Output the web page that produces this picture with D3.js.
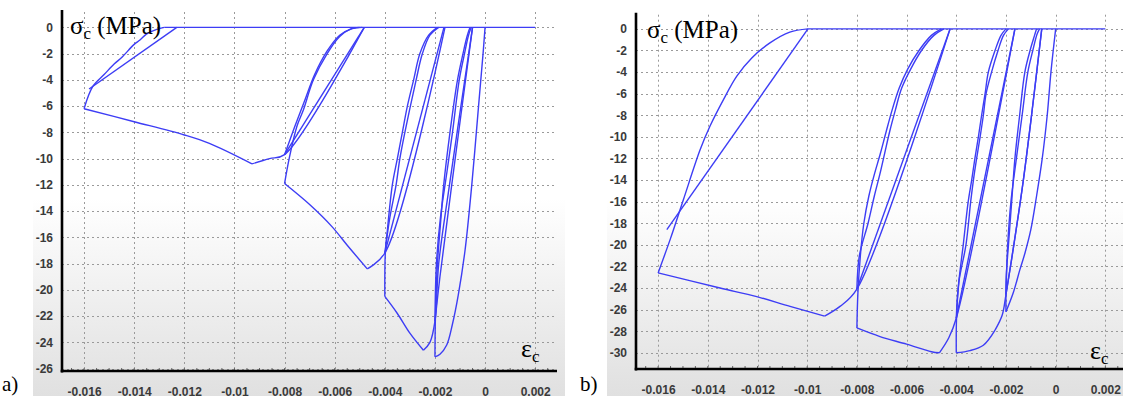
<!DOCTYPE html>
<html>
<head>
<meta charset="utf-8">
<script src="https://cdn.jsdelivr.net/npm/d3@7"></script>
<style>
  html, body { margin: 0; padding: 0; background: #ffffff; }
  svg { display: block; }
</style>
</head>
<body>
<svg id="chart" width="1123" height="398"></svg>
<script>
// ---------------- DATA ----------------
const strainTicks = [-0.016, -0.014, -0.012, -0.01, -0.008, -0.006, -0.004, -0.002, 0, 0.002];
const strainTickLabels = ["-0.016", "-0.014", "-0.012", "-0.01", "-0.008", "-0.006", "-0.004", "-0.002", "0", "0.002"];
const stressTicksA = [0, -2, -4, -6, -8, -10, -12, -14, -16, -18, -20, -22, -24, -26];
const stressTicksB = [0, -2, -4, -6, -8, -10, -12, -14, -16, -18, -20, -22, -24, -26, -28, -30];
const panelLabels = ["a)", "b)"];

// Panel a) branches [strain, stress MPa]
const aEnvelope0 = [[0,0],[-0.00008,-2],[-0.00026,-6],[-0.00053,-12],[-0.0008,-17],[-0.00107,-20.4],[-0.0013,-22.6],[-0.00153,-24.2],[-0.0018,-24.9],[-0.002,-25.1]];
const aUnload1 = [[-0.002,-25.1],[-0.00198,-22],[-0.0019,-18],[-0.00178,-15],[-0.00165,-12],[-0.0014,-8],[-0.0011,-4],[-0.00088,-2],[-0.00072,-0.7],[-0.0006,0]];
const aReload1 = [[-0.0005,0],[-0.00133,-12],[-0.0018,-19],[-0.002,-22.4]];
const aUnload2 = [[-0.002,-22.4],[-0.00194,-18],[-0.00178,-14.5],[-0.00152,-11],[-0.0013,-8],[-0.00103,-4],[-0.00082,-2],[-0.00066,-0.6],[-0.00055,0]];
const aReload2 = [[-0.0005,0],[-0.00142,-12],[-0.00185,-18],[-0.002,-22.4],[-0.0022,-24],[-0.00246,-24.6]];
const aEnvelope1 = [[-0.00246,-24.6],[-0.003,-23.3],[-0.0035,-21.8],[-0.004,-20.5]];
const aUnload3 = [[-0.004,-20.5],[-0.00398,-17.2],[-0.0039,-15.5],[-0.0037,-12],[-0.0035,-10],[-0.0033,-8],[-0.0031,-6],[-0.00285,-4],[-0.0026,-2],[-0.00225,-0.6],[-0.0019,0]];
const aReload3 = [[-0.00164,0],[-0.004,-17.2]];
const aUnload4 = [[-0.004,-17.2],[-0.0038,-14.5],[-0.00355,-12],[-0.0034,-10],[-0.0032,-8],[-0.00298,-6],[-0.00275,-4],[-0.0025,-2],[-0.0022,-0.6],[-0.00185,0]];
const aReload4 = [[-0.0016,0],[-0.004,-17.2],[-0.0047,-18.4]];
const aEnvelope2 = [[-0.0047,-18.4],[-0.0055,-16.6],[-0.0061,-15.2],[-0.007,-13.5],[-0.008,-11.9]];
const aUnload5 = [[-0.008,-11.9],[-0.0078,-9.85],[-0.0075,-7.5],[-0.00725,-6.3],[-0.00685,-4],[-0.0063,-2],[-0.0058,-0.7],[-0.0054,-0.15],[-0.005,0]];
const aReload5 = [[-0.00482,0],[-0.008,-9.7]];
const aUnload6 = [[-0.008,-9.7],[-0.0076,-7.6],[-0.0072,-5.6],[-0.0068,-3.6],[-0.0063,-1.8],[-0.0058,-0.6],[-0.0053,-0.1],[-0.0049,0]];
const aReload6 = [[-0.00482,0],[-0.008,-9.7],[-0.0086,-10.0],[-0.0093,-10.4]];
const aEnvelope3 = [[-0.0093,-10.4],[-0.011,-8.84],[-0.012,-8.2],[-0.014,-7.19],[-0.016,-6.2]];
const aUnload7 = [[-0.016,-6.2],[-0.01565,-4.5],[-0.0152,-3.6],[-0.0148,-2.8],[-0.0145,-2.3],[-0.014,-1.3],[-0.01377,-0.97],[-0.0135,-0.5],[-0.0131,-0.15],[-0.0128,0]];
const aReload7 = [[-0.0123,0],[-0.0158,-4.7]];
const aTension = [[-0.0128,0],[0.002,0]];

// Panel b) branches [strain, stress MPa]
const bEnvelope0 = [[0,0],[-0.00019,-4],[-0.00034,-8],[-0.00054,-12],[-0.00077,-15.5],[-0.001,-18.6],[-0.00124,-20.8],[-0.00144,-22.3],[-0.0017,-24.4],[-0.002,-26.2]];
const bUnload1 = [[-0.002,-26.2],[-0.00199,-23],[-0.0019,-20],[-0.00177,-16],[-0.00164,-12],[-0.00145,-8],[-0.00124,-4],[-0.00103,-2],[-0.00085,-0.6],[-0.00077,0]];
const bReload1 = [[-0.00056,0],[-0.00097,-8],[-0.0013,-14],[-0.00165,-19.5],[-0.002,-24.6]];
const bUnload2 = [[-0.002,-24.6],[-0.00193,-20],[-0.0018,-16],[-0.00158,-12],[-0.00135,-8],[-0.00112,-4],[-0.00092,-2],[-0.00075,-0.5],[-0.00065,0]];
const bReload2 = [[-0.00056,0],[-0.00097,-8],[-0.0013,-14],[-0.00165,-19.5],[-0.002,-24.6],[-0.00215,-26.5],[-0.00244,-27.9]];
const bEnvelope1 = [[-0.00244,-27.9],[-0.00291,-29.3],[-0.00345,-29.8],[-0.004,-30]];
const bUnload3 = [[-0.004,-30],[-0.00399,-26.8],[-0.0039,-23.5],[-0.00372,-20],[-0.00352,-16],[-0.00338,-14],[-0.00325,-12],[-0.00311,-10],[-0.00298,-8],[-0.00284,-6],[-0.00271,-4],[-0.00244,-2],[-0.0022,-0.6],[-0.002,0]];
const bReload3 = [[-0.00164,0],[-0.004,-26.8]];
const bUnload4 = [[-0.004,-26.8],[-0.0039,-23.5],[-0.00361,-20],[-0.00342,-16],[-0.00331,-14],[-0.00318,-12],[-0.00304,-10],[-0.00291,-8],[-0.0028,-6],[-0.00258,-4],[-0.00232,-2],[-0.0021,-0.6],[-0.0019,0]];
const bReload4 = [[-0.00164,0],[-0.004,-26.8],[-0.0043,-28.6],[-0.00468,-30]];
const bEnvelope2 = [[-0.00468,-30],[-0.005,-29.9],[-0.006,-29.2],[-0.00707,-28.5],[-0.008,-27.7]];
const bUnload5 = [[-0.008,-27.7],[-0.00796,-24.5],[-0.00786,-21],[-0.00772,-18],[-0.00752,-15.5],[-0.0073,-13.5],[-0.00705,-11.5],[-0.00682,-9.5],[-0.00658,-7.5],[-0.0063,-5.5],[-0.00595,-3.7],[-0.0055,-2],[-0.005,-0.6],[-0.0046,0]];
const bReload5 = [[-0.00425,0],[-0.008,-24.1]];
const bUnload6 = [[-0.008,-24.1],[-0.0079,-21],[-0.00755,-18],[-0.0073,-15.5],[-0.00708,-13.5],[-0.00688,-11.5],[-0.00668,-9.5],[-0.00645,-7.5],[-0.0062,-5.5],[-0.00583,-3.7],[-0.0054,-2],[-0.0049,-0.6],[-0.0045,0]];
const bReload6 = [[-0.00425,0],[-0.008,-24.1],[-0.00868,-25.7],[-0.0093,-26.6]];
const bEnvelope3 = [[-0.0093,-26.6],[-0.01069,-25.7],[-0.01203,-24.8],[-0.01351,-24],[-0.016,-22.6]];
const bUnload7 = [[-0.016,-22.6],[-0.0155,-19.4],[-0.01498,-15.8],[-0.01431,-11.2],[-0.01391,-9],[-0.01338,-6.6],[-0.01284,-4.4],[-0.01223,-2.7],[-0.0115,-1.3],[-0.0107,-0.3],[-0.00997,0]];
const bReload7 = [[-0.00997,0],[-0.01565,-18.6]];
const bTension = [[-0.00997,0],[0.002,0]];

const aBranches = [aEnvelope0,aUnload1,aReload1,aUnload2,aReload2,aEnvelope1,aUnload3,aReload3,aUnload4,aReload4,aEnvelope2,aUnload5,aReload5,aUnload6,aReload6,aEnvelope3,aUnload7,aReload7,aTension];
const bBranches = [bEnvelope0,bUnload1,bReload1,bUnload2,bReload2,bEnvelope1,bUnload3,bReload3,bUnload4,bReload4,bEnvelope2,bUnload5,bReload5,bUnload6,bReload6,bEnvelope3,bUnload7,bReload7,bTension];

// ---------------- DRAW ----------------
const svg = d3.select("#chart");
const defs = svg.append("defs");
const grad = defs.append("linearGradient").attr("id","bg").attr("x1",0).attr("y1",0).attr("x2",0).attr("y2",1);
grad.append("stop").attr("offset","0%").attr("stop-color","#ffffff");
grad.append("stop").attr("offset","50%").attr("stop-color","#ffffff");
grad.append("stop").attr("offset","100%").attr("stop-color","#e0e0e0");

const LINE = "#3d3df5";
const panels = [
  {branches:aBranches, yTicks:stressTicksA, bgX:33, bgW:532, xRange:[62,557], xDomain:[-0.01688,0.00287], yRange:[10,371], yDomain:[1.32,-26.18],
   label:panelLabels[0], labelX:2, sigX:70, sigY:34, epsX:521, epsY:357},
  {branches:bBranches, yTicks:stressTicksB, bgX:607, bgW:516, xRange:[636,1123], xDomain:[-0.01689,0.00271], yRange:[12.7,369], yDomain:[1.5,-31.5],
   label:panelLabels[1], labelX:580, sigX:647, sigY:38, epsX:1090, epsY:359}
];

panels.forEach(p => {
  const g = svg.append("g");
  g.append("rect").attr("x",p.bgX).attr("y",0).attr("width",p.bgW).attr("height",396).attr("fill","url(#bg)");

  const x = d3.scaleLinear().domain(p.xDomain).range(p.xRange);
  const y = d3.scaleLinear().domain(p.yDomain).range(p.yRange);
  const top = p.yRange[0], bottom = p.yRange[1], left = p.xRange[0], right = p.xRange[1];

  // grid
  const grid = g.append("g").attr("stroke","#9a9a9a").attr("stroke-width",1).attr("stroke-dasharray","2,3").attr("fill","none");
  strainTicks.forEach(t => {
    grid.append("line").attr("x1",Math.round(x(t))+0.5).attr("x2",Math.round(x(t))+0.5).attr("y1",top+2).attr("y2",bottom);
  });
  p.yTicks.forEach(t => {
    grid.append("line").attr("x1",left).attr("x2",right).attr("y1",Math.round(y(t))+0.5).attr("y2",Math.round(y(t))+0.5);
  });

  // minor ticks on x axis
  const minor = d3.range(-0.0165, 0.0027, 0.0005);
  g.append("g").selectAll("line").data(minor).join("line")
    .attr("x1",d=>x(d)).attr("x2",d=>x(d)).attr("y1",bottom-3).attr("y2",bottom)
    .attr("stroke","#666").attr("stroke-width",1);

  // curves
  const line = d3.line().x(d=>x(d[0])).y(d=>y(d[1])).curve(d3.curveCatmullRom.alpha(0.5));
  g.append("g").selectAll("path").data(p.branches).join("path")
    .attr("d",line).attr("fill","none").attr("stroke",LINE).attr("stroke-width",1.4)
    .attr("stroke-linejoin","round");

  // axes lines
  g.append("line").attr("x1",left).attr("x2",left).attr("y1",top).attr("y2",bottom+1.5).attr("stroke","#000").attr("stroke-width",2.6);
  g.append("line").attr("x1",left-1.3).attr("x2",right).attr("y1",bottom).attr("y2",bottom).attr("stroke","#000").attr("stroke-width",2.6);

  // tick labels using d3 axes
  const xAxis = d3.axisBottom(x).tickValues(strainTicks).tickFormat((d,i)=>strainTickLabels[i]).tickSize(0).tickPadding(0);
  const xa = g.append("g").attr("transform",`translate(0,${bottom+16})`).call(xAxis);
  xa.select(".domain").remove();
  xa.selectAll("text").attr("font-family","'Liberation Sans', Arial, sans-serif").attr("font-size",12).attr("font-weight","bold").attr("fill","#3a3a3a");

  const yAxis = d3.axisLeft(y).tickValues(p.yTicks).tickFormat(d=>String(d)).tickSize(0).tickPadding(0);
  const ya = g.append("g").attr("transform",`translate(${left-9},0)`).call(yAxis);
  ya.select(".domain").remove();
  ya.selectAll("text").attr("font-family","'Liberation Sans', Arial, sans-serif").attr("font-size",12).attr("font-weight","bold").attr("fill","#3a3a3a");

  // axis titles
  const sig = g.append("text").attr("x",p.sigX).attr("y",p.sigY)
    .attr("font-family","'Liberation Serif', 'Times New Roman', serif").attr("font-size",25).attr("fill","#000");
  sig.append("tspan").text("σ");
  sig.append("tspan").attr("font-size",17).attr("dy",5).text("c");
  sig.append("tspan").attr("dy",-5).text(" (MPa)");

  const eps = g.append("text").attr("x",p.epsX).attr("y",p.epsY)
    .attr("font-family","'Liberation Serif', 'Times New Roman', serif").attr("font-size",26).attr("fill","#000");
  eps.append("tspan").text("ε");
  eps.append("tspan").attr("font-size",17).attr("dy",5).text("c");

  g.append("text").attr("x",p.labelX).attr("y",391)
    .attr("font-family","'Liberation Serif', 'Times New Roman', serif").attr("font-size",21).attr("fill","#000").text(p.label);
});
</script>
</body>
</html>
